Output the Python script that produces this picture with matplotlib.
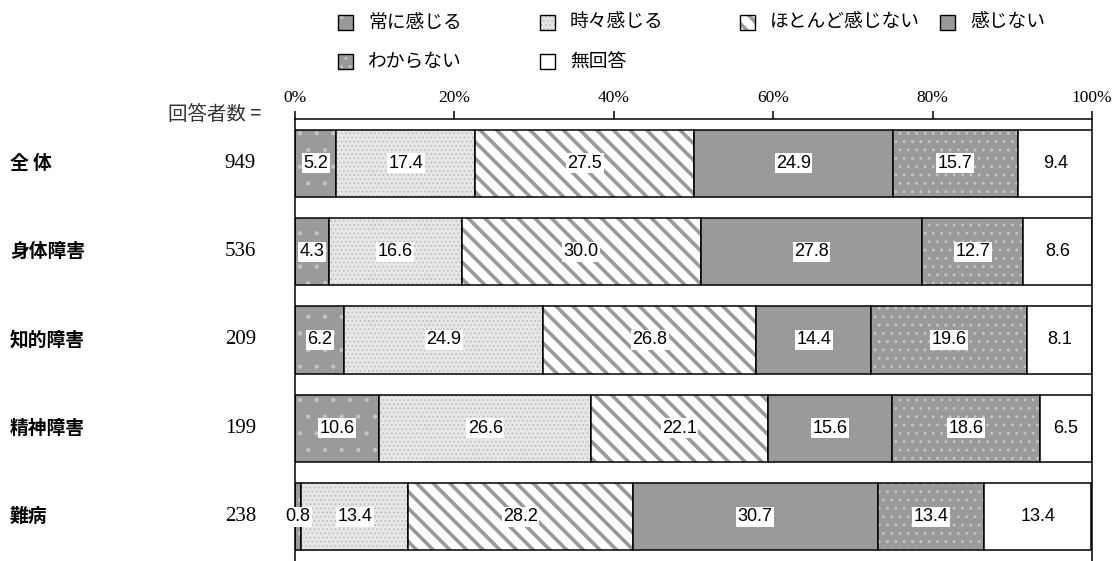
import numpy as np
import matplotlib.pyplot as plt
from matplotlib.patches import Rectangle

plt.rcParams['font.family'] = ['Noto Sans CJK JP', 'DejaVu Sans']
plt.rcParams['hatch.linewidth'] = 1.0

groups = ['全 体', '身体障害', '知的障害', '精神障害', '難病']
counts = [949, 536, 209, 199, 238]
answers = ['常に感じる', '時々感じる', 'ほとんど感じない', '感じない', 'わからない', '無回答']
always = [5.2, 4.3, 6.2, 10.6, 0.8]
sometimes = [17.4, 16.6, 24.9, 26.6, 13.4]
rarely = [27.5, 30.0, 26.8, 22.1, 28.2]
never = [24.9, 27.8, 14.4, 15.6, 30.7]
unknown = [15.7, 12.7, 19.6, 18.6, 13.4]
no_answer = [9.4, 8.6, 8.1, 6.5, 13.4]
ticks = [0, 20, 40, 60, 80, 100]

# fill, hatch, hatch colour, hatch width
styles = [('#9a9a9a', '.', '#c4c4c4', 0.7),
          ('#e6e6e6', '....', '#b8b8b8', 0.6),
          ('white', '\\\\', '#9a9a9a', 2.6),
          ('#9a9a9a', '', '#9a9a9a', 1.0),
          ('#9a9a9a', '..', '#c8c8c8', 0.8),
          ('white', '', 'white', 1.0)]

W, H = 1119, 561
fig = plt.figure(figsize=(W / 100, H / 100), dpi=100)
ax = fig.add_axes([295 / W, 0, (1092 - 295) / W, 1 - 119 / H])

def ax_x(px):
    return (px - 295) / (1092 - 295)

def set_hw(patch, hw):
    # per-patch hatch width when this matplotlib supports it
    if hasattr(patch, 'set_hatch_linewidth'):
        patch.set_hatch_linewidth(hw)

series = [always, sometimes, rarely, never, unknown, no_answer]
y = np.arange(len(groups))
left = np.zeros(len(groups))
for vals, (fc, hatch, hc, hw) in zip(series, styles):
    vals = np.array(vals)
    bars = ax.barh(y, vals, left=left, height=0.76, color=fc, edgecolor=hc,
                   hatch=hatch, linewidth=0)
    for b in bars:
        set_hw(b, hw)
    ax.barh(y, vals, left=left, height=0.76, fill=False, edgecolor='black',
            linewidth=1.1)
    for i, v in enumerate(vals):
        ax.text(left[i] + v / 2, i, f'{v:.1f}', ha='center', va='center',
                fontsize=13, family='Liberation Sans',
                bbox=dict(fc='white', ec='none', pad=1.0))
    left += vals

ax.set_xlim(0, 100)
ax.set_ylim(4.5, -0.5)
ax.set_yticks([])
ax.xaxis.tick_top()
ax.set_xticks(ticks)
ax.set_xticklabels([f'{t}%' for t in ticks], family='Liberation Serif')
ax.tick_params(axis='x', length=6, width=1.1, pad=3, labelsize=12.5)
ax.spines['bottom'].set_visible(False)
for s in ['top', 'left', 'right']:
    ax.spines[s].set_linewidth(1.1)

# group names and respondent counts
for i, (g, n) in enumerate(zip(groups, counts)):
    ax.text(ax_x(10), i, g, transform=ax.get_yaxis_transform(), ha='left',
            va='center', fontsize=13.5, fontweight='bold')
    ax.text(ax_x(256), i, str(n), transform=ax.get_yaxis_transform(),
            ha='right', va='center', fontsize=15,
            family=['Liberation Serif', 'Noto Sans CJK JP'])
fig.text(261 / W, 1 - 114 / H, '回答者数 =', ha='right', va='center',
         fontsize=14, color='#333333')

# legend drawn by hand to match the column spacing
legend_pos = [(338, 22), (540, 22), (740, 22), (940, 22), (338, 61), (540, 61)]
for name, (fc, hatch, hc, hw), (px, py) in zip(answers, styles, legend_pos):
    sq = Rectangle((px / W, 1 - (py + 7.5) / H), 15 / W, 15 / H,
                   transform=fig.transFigure, facecolor=fc,
                   edgecolor=hc, hatch=hatch, linewidth=0)
    set_hw(sq, hw)
    fig.add_artist(sq)
    fig.add_artist(Rectangle((px / W, 1 - (py + 7.5) / H), 15 / W, 15 / H,
                             transform=fig.transFigure, fill=False,
                             edgecolor='black', linewidth=1.0))
    fig.text((px + 30) / W, 1 - py / H, name, ha='left', va='center',
             fontsize=13.5)

fig.savefig('out.png', dpi=100)
